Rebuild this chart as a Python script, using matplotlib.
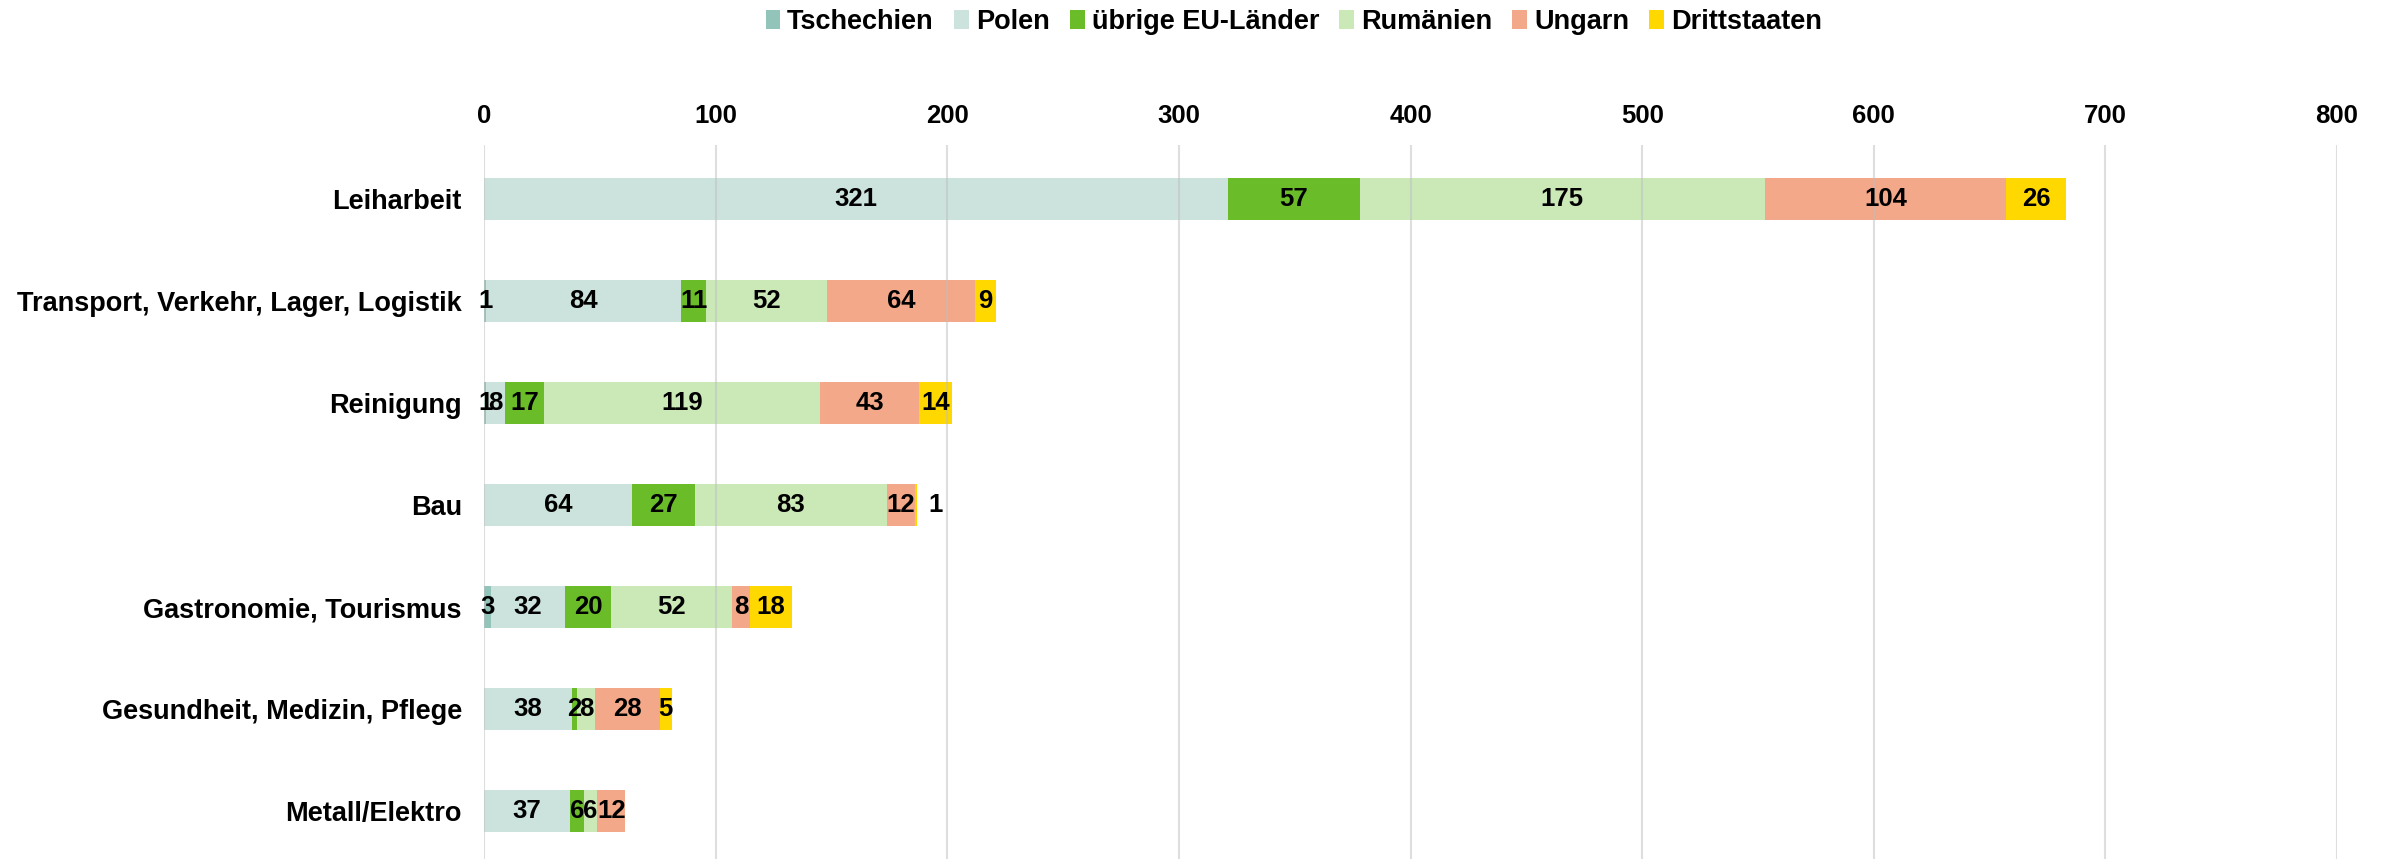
import numpy as np
import matplotlib
matplotlib.use('Agg')
import matplotlib.pyplot as plt

plt.rcParams['font.family'] = ['Liberation Sans', 'DejaVu Sans']

branchen = ['Leiharbeit', 'Transport, Verkehr, Lager, Logistik', 'Reinigung', 'Bau',
            'Gastronomie, Tourismus', 'Gesundheit, Medizin, Pflege', 'Metall/Elektro']

serien = ['Tschechien', 'Polen', 'übrige EU-Länder', 'Rumänien', 'Ungarn', 'Drittstaaten']
farben = ['#93C4B9', '#CCE2DD', '#6ABD28', '#CBE8B7', '#F3A889', '#FFD800']

tschechien = [0, 1, 1, 0, 3, 0, 0]
polen = [321, 84, 8, 64, 32, 38, 37]
uebrige_eu = [57, 11, 17, 27, 20, 2, 6]
rumaenien = [175, 52, 119, 83, 52, 8, 6]
ungarn = [104, 64, 43, 12, 8, 28, 12]
drittstaaten = [26, 9, 14, 1, 18, 5, 0]

werte = [tschechien, polen, uebrige_eu, rumaenien, ungarn, drittstaaten]

fig = plt.figure(figsize=(23.87, 8.59), dpi=100)
ax = fig.add_axes([484/2387, 0, (2337-484)/2387, 1 - 145/859])

y = np.arange(len(branchen))
links = np.zeros(len(branchen))
for name, farbe, v in zip(serien, farben, werte):
    v = np.array(v, dtype=float)
    ax.barh(y, v, left=links, height=0.42, color=farbe, label=name, zorder=1)
    for i in range(len(v)):
        if v[i] == 0:
            continue
        if name == 'Drittstaaten' and v[i] < 2:
            xt = links[i] + v[i] + 8
        else:
            xt = links[i] + v[i] / 2
        ax.text(xt, y[i], '%d' % v[i], ha='center', va='center',
                fontsize=18.5, fontweight='bold', color='black', zorder=3)
    links = links + v

ax.set_xlim(0, 800)
ax.set_ylim(6.47, -0.53)
ax.set_xticks(np.arange(0, 801, 100))
ax.xaxis.tick_top()
ax.tick_params(axis='x', length=0, pad=12, labelsize=18.5)
ax.tick_params(axis='y', length=0, pad=16, labelsize=19.5)
for lab in ax.get_xticklabels() + ax.get_yticklabels():
    lab.set_fontweight('bold')
ax.set_yticks(y)
ax.set_yticklabels(branchen)
ax.grid(axis='x', color='#BFBFBF', alpha=0.5, linewidth=1.5, zorder=2)
ax.set_axisbelow(False)
for s in ax.spines.values():
    s.set_visible(False)

leg = fig.legend(loc='upper center', bbox_to_anchor=(0.542, 1.018), ncol=6, frameon=False,
                 handlelength=0.55, handleheight=0.7, handletextpad=0.25,
                 columnspacing=0.75, prop={'weight': 'bold', 'size': 19.5})

fig.savefig('out.png', dpi=100)
